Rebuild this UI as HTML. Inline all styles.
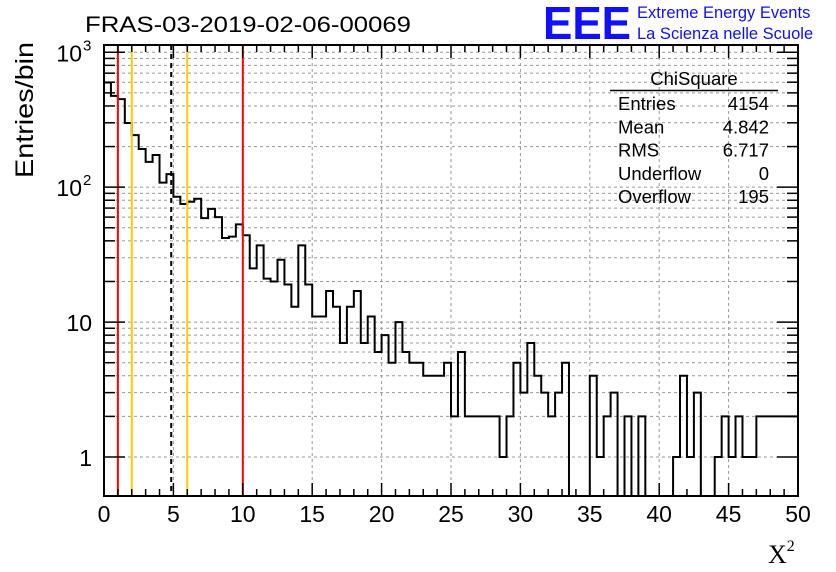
<!DOCTYPE html>
<html><head><meta charset="utf-8"><style>
body{margin:0;background:#fff;}
svg{display:block;font-family:"Liberation Sans",sans-serif;}
</style></head><body>
<svg id="chart" width="836" height="572" viewBox="0 0 836 572" xmlns="http://www.w3.org/2000/svg">
<rect x="0" y="0" width="836" height="572" fill="#fff"/>
<g id="grid"></g>
<g id="marks"></g>
<g id="axes"></g>
<text x="85" y="32" font-size="22" textLength="326" lengthAdjust="spacingAndGlyphs">FRAS-03-2019-02-06-00069</text>
<text x="543" y="39" font-size="46" font-weight="bold" fill="#1010ff" textLength="88" lengthAdjust="spacingAndGlyphs">EEE</text>
<text x="637" y="18" font-size="16.5" fill="#1010ff">Extreme Energy Events</text>
<text x="637" y="39" font-size="16.5" fill="#1010ff">La Scienza nelle Scuole</text>
<text transform="translate(33,178) rotate(-90)" font-size="25" textLength="136" lengthAdjust="spacingAndGlyphs">Entries/bin</text>
<text x="768" y="563" font-size="26" font-family="Liberation Serif, serif">X<tspan font-size="16" dy="-12">2</tspan></text>
<g font-size="18.5">
<text x="694" y="85" text-anchor="middle">ChiSquare</text>
<line x1="610" y1="90.5" x2="778" y2="90.5" stroke="#000" stroke-width="1.5"/>
</g>
<g id="stats" font-size="18.5"></g>
</svg>
<script>
const binEdges=[0,50];
const counts=[597,475,449,299,243,192,154,173,108,125,85,75,78,82,59,69,60,42,43,53,44,25,37,21,20,29,19,13,37,19,11,11,17,13,7,13,17,7,11,6,8,5,10,6,5,5,4,4,4,5,2,6,2,2,2,2,2,1,2,5,3,7,4,3,2,3,5,0,0,0,4,1,2,3,0,2,0,2,0,0,0,0,1,4,1,3,0,0,1,2,1,2,1,1,2,2,2,2,2,2];
const xTicks=[0,5,10,15,20,25,30,35,40,45,50];
const yDecades=[1,10,100,1000];
const yLabelBase=["1","10","10","10"];
const yLabelExp=["","","2","3"];
const vLines=[{x:1,c:"#ff0000",d:""},{x:2,c:"#ffcc00",d:""},{x:4.842,c:"#000",d:"5,4"},{x:6,c:"#ffcc00",d:""},{x:10,c:"#ff0000",d:""}];
const statNames=["Entries","Mean","RMS","Underflow","Overflow"];
const statValues=["4154","4.842","6.717","0","195"];

const L=104,R=798,T=45,B=496,yMin=0.514,yMax=1132;
const NS="http://www.w3.org/2000/svg";
function X(v){return L+(v-binEdges[0])/(binEdges[1]-binEdges[0])*(R-L);}
function Y(v){if(v<=0)return B;return B-(Math.log10(v)-Math.log10(yMin))/(Math.log10(yMax)-Math.log10(yMin))*(B-T);}
function mk(tag,attrs,parent){const e=document.createElementNS(NS,tag);for(const k in attrs)e.setAttribute(k,attrs[k]);parent.appendChild(e);return e;}
const grid=document.getElementById('grid'),marks=document.getElementById('marks'),axes=document.getElementById('axes'),stats=document.getElementById('stats');
xTicks.forEach(t=>{if(t>0&&t<50){const g=mk('line',{x1:X(t),x2:X(t),y1:T,y2:B,stroke:'#999','stroke-dasharray':'3,3','stroke-width':1},grid);

}});
yDecades.forEach(d=>{for(let m=1;m<=9;m++){const v=d*m;if(v<yMin||v>yMax)continue;const y=Y(v);
const g=mk('line',{x1:L,x2:R,y1:y,y2:y,stroke:'#999','stroke-dasharray':'3,3','stroke-width':1},grid);

}});
const n=counts.length,w=(binEdges[1]-binEdges[0])/n;
let d='M'+X(0)+','+B;
counts.forEach((c,i)=>{const y=Y(c);d+=' L'+X(i*w)+','+y+' L'+X((i+1)*w)+','+y;});
const p=mk('path',{d:d,fill:'none',stroke:'#000','stroke-width':2},marks);


vLines.forEach(v=>{const l=mk('line',{x1:X(v.x),x2:X(v.x),y1:T,y2:B,stroke:v.c,'stroke-width':2,'stroke-dasharray':v.d||'none'},marks);

});
const f=mk('rect',{x:L,y:T,width:R-L,height:B-T,fill:'none',stroke:'#000','stroke-width':2},axes);


for(let t=0;t<=50;t++){const len=t%5==0?13:7;const x=X(t);
mk('line',{x1:x,x2:x,y1:B,y2:B-len,stroke:'#000','stroke-width':1.5},axes);
mk('line',{x1:x,x2:x,y1:T,y2:T+len,stroke:'#000','stroke-width':1.5},axes);}
xTicks.forEach(t=>{const tx=mk('text',{x:X(t),y:522,'font-size':23,'text-anchor':'middle'},axes);tx.textContent=t;

});
yDecades.forEach((dd,i)=>{for(let m=1;m<=9;m++){const v=dd*m;if(v<yMin||v>yMax)continue;const y=Y(v);const len=m==1?21:11;
mk('line',{x1:L,x2:L+len,y1:y,y2:y,stroke:'#000','stroke-width':1.5},axes);
mk('line',{x1:R,x2:R-len,y1:y,y2:y,stroke:'#000','stroke-width':1.5},axes);}
const ex=yLabelExp[i];
const tx=mk('text',{x:ex?82:92,y:Y(dd)+9,'font-size':23,'text-anchor':'end'},axes);tx.textContent=yLabelBase[i];


if(ex){const e=mk('text',{x:83,y:Y(dd)-2,'font-size':15},axes);e.textContent=ex;

}});
statNames.forEach((s,i)=>{const y=110+i*23.3;
const a=mk('text',{x:618,y:y},stats);a.textContent=s;


const b=mk('text',{x:769,y:y,'text-anchor':'end'},stats);b.textContent=statValues[i];

});
</script>
</body></html>
